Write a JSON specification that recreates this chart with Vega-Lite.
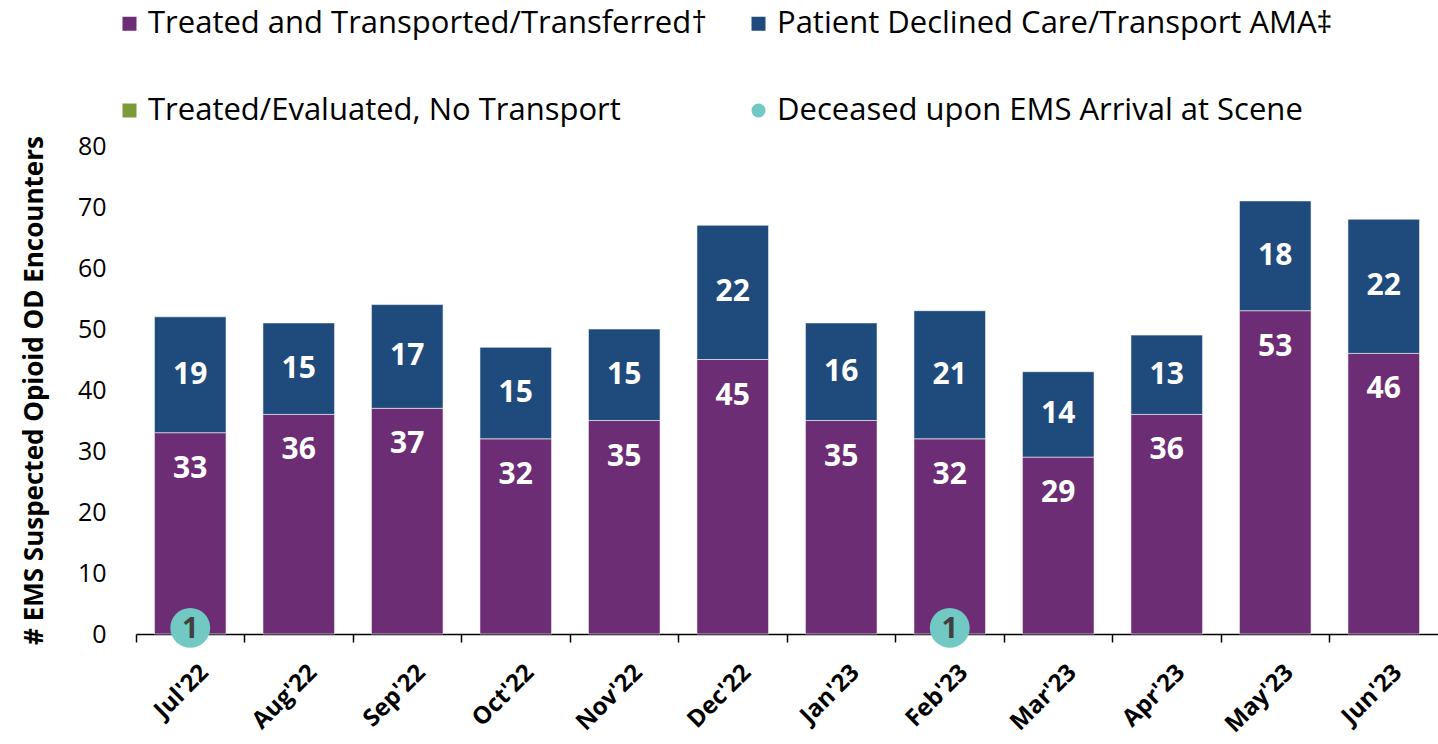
{
  "$schema": "https://vega.github.io/schema/vega-lite/v6.json",
  "autosize": {"type": "none"},
  "width": 1302,
  "height": 488,
  "padding": {"left": 136, "top": 146, "right": 0, "bottom": 110},
  "background": "white",
  "config": {
    "font": "Open Sans",
    "view": {"stroke": null}
  },
  "data": {
    "values": [
      {"month": "Jul'22", "status": "Treated and Transported/Transferred†", "n": 33},
      {"month": "Aug'22", "status": "Treated and Transported/Transferred†", "n": 36},
      {"month": "Sep'22", "status": "Treated and Transported/Transferred†", "n": 37},
      {"month": "Oct'22", "status": "Treated and Transported/Transferred†", "n": 32},
      {"month": "Nov'22", "status": "Treated and Transported/Transferred†", "n": 35},
      {"month": "Dec'22", "status": "Treated and Transported/Transferred†", "n": 45},
      {"month": "Jan'23", "status": "Treated and Transported/Transferred†", "n": 35},
      {"month": "Feb'23", "status": "Treated and Transported/Transferred†", "n": 32},
      {"month": "Mar'23", "status": "Treated and Transported/Transferred†", "n": 29},
      {"month": "Apr'23", "status": "Treated and Transported/Transferred†", "n": 36},
      {"month": "May'23", "status": "Treated and Transported/Transferred†", "n": 53},
      {"month": "Jun'23", "status": "Treated and Transported/Transferred†", "n": 46},
      {"month": "Jul'22", "status": "Patient Declined Care/Transport AMA‡", "n": 19},
      {"month": "Aug'22", "status": "Patient Declined Care/Transport AMA‡", "n": 15},
      {"month": "Sep'22", "status": "Patient Declined Care/Transport AMA‡", "n": 17},
      {"month": "Oct'22", "status": "Patient Declined Care/Transport AMA‡", "n": 15},
      {"month": "Nov'22", "status": "Patient Declined Care/Transport AMA‡", "n": 15},
      {"month": "Dec'22", "status": "Patient Declined Care/Transport AMA‡", "n": 22},
      {"month": "Jan'23", "status": "Patient Declined Care/Transport AMA‡", "n": 16},
      {"month": "Feb'23", "status": "Patient Declined Care/Transport AMA‡", "n": 21},
      {"month": "Mar'23", "status": "Patient Declined Care/Transport AMA‡", "n": 14},
      {"month": "Apr'23", "status": "Patient Declined Care/Transport AMA‡", "n": 13},
      {"month": "May'23", "status": "Patient Declined Care/Transport AMA‡", "n": 18},
      {"month": "Jun'23", "status": "Patient Declined Care/Transport AMA‡", "n": 22},
      {"month": "Jul'22", "status": "Deceased upon EMS Arrival at Scene", "n": 1},
      {"month": "Feb'23", "status": "Deceased upon EMS Arrival at Scene", "n": 1}
    ]
  },
  "encoding": {
    "x": {
      "field": "month",
      "type": "nominal",
      "sort": null,
      "scale": {"paddingInner": 0, "paddingOuter": 0},
      "axis": {
        "title": null,
        "domainColor": "#000000",
        "domainWidth": 1.5,
        "tickColor": "#000000",
        "tickWidth": 1.5,
        "tickSize": 8,
        "bandPosition": 0,
        "labelAngle": -45,
        "labelAlign": "right",
        "labelBaseline": "top",
        "labelPadding": 18,
        "labelOffset": 6,
        "labelFontSize": 24,
        "labelFontWeight": "bold",
        "labelColor": "#000000",
        "labelFont": "Open Sans"
      }
    }
  },
  "layer": [
    {
      "transform": [{"filter": "datum.status !== 'Deceased upon EMS Arrival at Scene'"}],
      "mark": {"type": "bar", "width": {"band": 0.66}, "stroke": "#ffffff", "strokeWidth": 0.8, "strokeOpacity": 0.7},
      "encoding": {
        "y": {
          "aggregate": "sum",
          "field": "n",
          "type": "quantitative",
          "stack": "zero",
          "scale": {"domain": [0, 80], "nice": false},
          "axis": {
            "title": "# EMS Suspected  Opioid OD Encounters",
            "titleFontSize": 26,
            "titleFontWeight": "bold",
            "titleColor": "#000000",
            "titleFont": "Open Sans",
            "titlePadding": 30,
            "values": [0, 10, 20, 30, 40, 50, 60, 70, 80],
            "domain": false,
            "ticks": false,
            "grid": false,
            "labelPadding": 30,
            "labelFontSize": 25,
            "labelColor": "#000000",
            "labelFont": "Open Sans"
          }
        },
        "color": {
          "field": "status",
          "type": "nominal",
          "scale": {
            "domain": [
              "Treated and Transported/Transferred†",
              "Patient Declined Care/Transport AMA‡",
              "Treated/Evaluated, No Transport",
              "Deceased upon EMS Arrival at Scene"
            ],
            "range": ["#6C2D74", "#1F4A7C", "#7A9A3C", "#72C9C4"]
          },
          "legend": {
            "title": null,
            "orient": "none",
            "direction": "horizontal",
            "legendX": -22,
            "legendY": -138,
            "columns": 2,
            "columnPadding": 36,
            "rowPadding": 55,
            "labelFontSize": 31,
            "labelFont": "Open Sans",
            "labelColor": "#000000",
            "labelLimit": 800,
            "labelOffset": 3,
            "symbolSize": 196,
            "symbolStrokeWidth": 0
          }
        },
        "order": {"field": "status", "sort": "descending"}
      }
    },
    {
      "transform": [{"filter": "datum.status === 'Treated and Transported/Transferred†'"}],
      "mark": {"type": "text", "color": "#ffffff", "fontSize": 30, "fontWeight": "bold", "font": "Open Sans", "baseline": "middle", "dy": 36},
      "encoding": {
        "y": {"field": "n", "type": "quantitative"},
        "text": {"field": "n", "type": "quantitative"}
      }
    },
    {
      "transform": [{"filter": "datum.status !== 'Deceased upon EMS Arrival at Scene'"}],
      "mark": {"type": "text", "fontSize": 30, "fontWeight": "bold", "font": "Open Sans", "baseline": "middle"},
      "encoding": {
        "y": {"aggregate": "sum", "field": "n", "type": "quantitative", "stack": "zero", "bandPosition": 0.5},
        "order": {"field": "status", "sort": "descending"},
        "text": {"field": "n", "type": "quantitative"},
        "detail": {"field": "status"},
        "opacity": {"condition": {"test": "datum.status === 'Patient Declined Care/Transport AMA‡'", "value": 1}, "value": 0},
        "color": {"value": "#ffffff"}
      }
    },
    {
      "transform": [{"filter": "datum.status === 'Deceased upon EMS Arrival at Scene'"}],
      "mark": {"type": "point", "filled": true, "size": 1590, "opacity": 1},
      "encoding": {
        "y": {"field": "n", "type": "quantitative"},
        "color": {"field": "status", "type": "nominal"},
        "shape": {
          "field": "status",
          "type": "nominal",
          "scale": {
            "domain": [
              "Treated and Transported/Transferred†",
              "Patient Declined Care/Transport AMA‡",
              "Treated/Evaluated, No Transport",
              "Deceased upon EMS Arrival at Scene"
            ],
            "range": ["square", "square", "square", "circle"]
          }
        }
      }
    },
    {
      "transform": [{"filter": "datum.status === 'Deceased upon EMS Arrival at Scene'"}],
      "mark": {"type": "text", "color": "#404040", "fontSize": 29, "fontWeight": "bold", "font": "Open Sans", "baseline": "middle", "dy": 1},
      "encoding": {
        "y": {"field": "n", "type": "quantitative"},
        "text": {"field": "n", "type": "quantitative"}
      }
    }
  ]
}
